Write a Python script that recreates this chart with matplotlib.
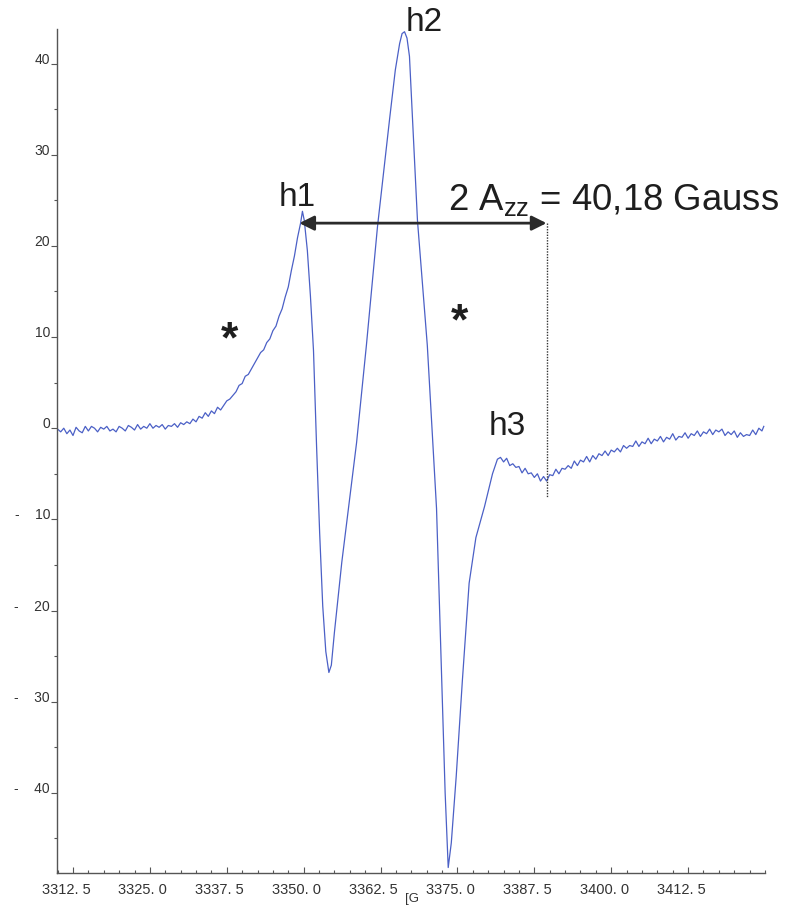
import numpy as np
import matplotlib
matplotlib.use("Agg")
import matplotlib.pyplot as plt
from matplotlib.transforms import ScaledTranslation

plt.rcParams["font.family"] = ["Liberation Sans", "DejaVu Sans"]
plt.rcParams["mathtext.fontset"] = "custom"
plt.rcParams["mathtext.rm"] = "Liberation Sans"
plt.rcParams["mathtext.it"] = "Liberation Sans:italic"

# ---------------------------------------------------------------------------
# spectrum (field in G, signal in a.u.)
# ---------------------------------------------------------------------------
base_field = [3310.0, 3310.5, 3311.0, 3311.5, 3312.0, 3312.5, 3313.0, 3313.5, 3314.0, 3314.5,
              3315.0, 3315.5, 3316.0, 3316.5, 3317.0, 3317.5, 3318.0, 3318.5, 3319.0, 3319.5,
              3320.0, 3320.5, 3321.0, 3321.5, 3322.0, 3322.5, 3323.0, 3323.5, 3324.0, 3324.5,
              3325.0, 3325.5, 3326.0, 3326.5, 3327.0, 3327.5, 3328.0, 3328.5, 3329.0, 3329.5,
              3330.0, 3330.5, 3331.0, 3331.5, 3332.0, 3332.5, 3333.0]
base_signal = [-0.1, -0.4, 0.0, -0.6, -0.2, -0.8, 0.1, -0.3, -0.5, 0.2,
               -0.3, 0.2, 0.0, -0.4, 0.1, -0.1, 0.2, -0.3, -0.1, -0.4,
               0.2, 0.0, -0.3, 0.3, 0.1, -0.2, 0.4, -0.1, 0.2, 0.0,
               0.5, 0.0, 0.3, 0.1, 0.4, -0.1, 0.3, 0.2, 0.5, 0.1,
               0.6, 0.4, 0.7, 0.5, 1.0, 0.7, 1.3]

rise_field = [3333.5, 3334.0, 3334.5, 3335.0, 3335.5, 3336.0, 3336.5, 3337.0, 3337.5, 3338.0,
              3338.5, 3339.0, 3339.5, 3340.0, 3340.5, 3341.0, 3341.5, 3342.0, 3342.5, 3343.0,
              3343.5, 3344.0, 3344.5, 3345.0, 3345.5, 3346.0, 3346.5, 3347.0, 3347.5, 3348.0,
              3348.5, 3349.0, 3349.5, 3349.8]
rise_signal = [1.1, 1.7, 1.3, 1.9, 1.6, 2.3, 2.0, 2.5, 3.0, 3.2,
               3.6, 4.0, 4.7, 4.9, 5.7, 5.9, 6.5, 7.1, 7.7, 8.3,
               8.6, 9.4, 9.8, 10.7, 11.2, 12.3, 13.1, 14.4, 15.5, 17.3,
               18.9, 20.9, 22.5, 23.8]

core_field = [3350.1, 3350.6, 3351.1, 3351.6, 3352.1, 3352.6, 3353.1, 3353.6, 3354.1, 3354.5,
              3355.0, 3356.2, 3357.5, 3358.6, 3360.2, 3362.0, 3364.0, 3364.9, 3365.6, 3366.0,
              3366.4, 3366.8, 3367.2, 3368.5, 3370.1, 3371.6, 3372.4, 3373.0, 3373.5, 3374.0,
              3374.8, 3375.8, 3376.9, 3378.0, 3379.4, 3380.7, 3381.5]
core_signal = [22.8, 19.5, 14.5, 8.5, -2.0, -11.5, -19.5, -24.5, -26.8, -26.0,
               -22.4, -14.7, -7.6, -1.6, 9.1, 22.1, 34.1, 39.3, 42.2, 43.3,
               43.5, 42.8, 40.8, 22.8, 9.1, -8.8, -26.5, -40.0, -48.2, -45.5,
               -38.2, -27.7, -17.0, -12.0, -8.6, -5.0, -3.4]

tail_field = [3382.0, 3382.5, 3383.0, 3383.5, 3384.0, 3384.5, 3385.0, 3385.5, 3386.0, 3386.5,
              3387.0, 3387.5, 3388.0, 3388.5, 3389.0, 3389.5, 3390.0, 3390.5, 3391.0, 3391.5,
              3392.0, 3392.5, 3393.0, 3393.5, 3394.0, 3394.5, 3395.0, 3395.5, 3396.0, 3396.5,
              3397.0, 3397.5, 3398.0, 3398.5, 3399.0, 3399.5, 3400.0, 3400.5, 3401.0, 3401.5,
              3402.0, 3402.5, 3403.0, 3403.5, 3404.0, 3404.5, 3405.0, 3405.5, 3406.0, 3406.5,
              3407.0, 3407.5, 3408.0, 3408.5, 3409.0, 3409.5, 3410.0, 3410.5, 3411.0, 3411.5,
              3412.0, 3412.5, 3413.0, 3413.5, 3414.0, 3414.5, 3415.0, 3415.5, 3416.0, 3416.5,
              3417.0, 3417.5, 3418.0, 3418.5, 3419.0, 3419.5, 3420.0, 3420.5, 3421.0, 3421.5,
              3422.0, 3422.5, 3423.0, 3423.5, 3424.0, 3424.5, 3424.8]
tail_signal = [-3.2, -3.7, -3.3, -4.1, -3.9, -4.3, -4.2, -4.9, -4.4, -5.0,
               -4.9, -5.4, -5.0, -5.8, -5.3, -5.8, -5.1, -5.2, -4.5, -5.0,
               -4.4, -4.5, -4.1, -4.4, -3.6, -4.1, -3.5, -3.7, -3.1, -3.7,
               -3.0, -3.4, -2.8, -3.0, -2.5, -3.0, -2.4, -2.6, -2.2, -2.6,
               -1.9, -2.2, -1.9, -2.0, -1.4, -2.0, -1.5, -1.7, -1.1, -1.7,
               -1.2, -1.4, -0.9, -1.5, -1.0, -1.2, -0.6, -1.3, -0.9, -1.0,
               -0.5, -1.1, -0.6, -0.8, -0.3, -0.9, -0.4, -0.6, -0.1, -0.7,
               -0.2, -0.4, -0.1, -0.8, -0.4, -0.7, -0.3, -1.0, -0.5, -0.9,
               -0.7, -0.8, -0.2, -0.7, 0.0, -0.3, 0.2]

x_ticks = [3312.5, 3325.0, 3337.5, 3350.0, 3362.5, 3375.0, 3387.5, 3400.0, 3412.5]
x_labels = ["3312. 5", "3325. 0", "3337. 5", "3350. 0", "3362. 5",
            "3375. 0", "3387. 5", "3400. 0", "3412. 5"]
y_ticks = [-40, -30, -20, -10, 0, 10, 20, 30, 40]
y_labels = ["-    40", "-    30", "-    20", "-    10", "0", "10", "20", "30", "40"]

h1_field = 3349.3      # left end of the 2 Azz arrow
azz2 = 40.18           # 2 Azz in Gauss
arrow_level = 22.5

field = np.array(base_field + rise_field + core_field + tail_field)
signal = np.array(base_signal + rise_signal + core_signal + tail_signal)

# ---------------------------------------------------------------------------
# figure
# ---------------------------------------------------------------------------
W, H = 786, 906
fig = plt.figure(figsize=(W / 100, H / 100), dpi=100)
ax = fig.add_axes([57 / W, 33 / H, 708 / W, 844 / H])

ax.plot(field, signal, color="#4b60c6", lw=0.9)

ax.set_xlim(3309.9, 3424.8)
ax.set_ylim(-48.8, 43.8)

ink = "#333333"
for side in ("top", "right"):
    ax.spines[side].set_visible(False)
for side in ("left", "bottom"):
    ax.spines[side].set_color("#555555")
    ax.spines[side].set_linewidth(1.0)

ax.set_xticks(x_ticks, x_labels)
ax.set_xticks(np.arange(3310.0, 3425.1, 2.5), minor=True)
ax.set_yticks(y_ticks, y_labels)
ax.set_yticks(np.arange(-45, 45, 5), minor=True)

ax.tick_params(axis="x", which="major", direction="in", length=4, width=0.8,
               color="#555555", labelsize=10.5, labelcolor=ink, pad=7)
ax.tick_params(axis="x", which="minor", direction="in", length=2.5, width=0.8,
               color="#555555")
ax.tick_params(axis="y", which="major", direction="out", length=4, width=0.8,
               color="#555555", labelsize=10, labelcolor=ink, pad=1)
ax.tick_params(axis="y", which="minor", direction="out", length=2, width=0.8,
               color="#555555")

shift = ScaledTranslation(-7 / 100, 0, fig.dpi_scale_trans)
for lbl in ax.get_xticklabels():
    lbl.set_transform(lbl.get_transform() + shift)
for lbl in ax.get_yticklabels():
    lbl.set_verticalalignment("baseline")

fig.text(412 / W, 1 - 893 / H, "[G", fontsize=9.5, color=ink, ha="center", va="top")

# ---------------------------------------------------------------------------
# annotations
# ---------------------------------------------------------------------------
txt = "#1e1e1e"
ax.annotate("", xy=(h1_field, arrow_level), xytext=(h1_field + azz2, arrow_level),
            arrowprops=dict(arrowstyle="<|-|>", color="#2a2a2a", lw=2.0,
                            mutation_scale=22, shrinkA=0, shrinkB=0))
ax.plot([h1_field + azz2] * 2, [arrow_level, -7.7], color="#333333", lw=1.0,
        ls=(0, (1, 1)))

ax.text(3348.9, 25.3, "h1", fontsize=24, color=txt, ha="center", va="center")
ax.text(3369.6, 44.5, "h2", fontsize=24, color=txt, ha="center", va="center")
ax.text(3383.1, 0.2, "h3", fontsize=24, color=txt, ha="center", va="center")
ax.text(3373.4, 23.9, "2 A$_{\\mathrm{zz}}$ = 40,18 Gauss", fontsize=26.3, color=txt,
        ha="left", va="baseline")
ax.text(3338.0, 9.6, "*", fontsize=32, fontweight="bold", color=txt,
        ha="center", va="center")
ax.text(3375.3, 11.6, "*", fontsize=32, fontweight="bold", color=txt,
        ha="center", va="center")

fig.savefig("out.png", dpi=100)
